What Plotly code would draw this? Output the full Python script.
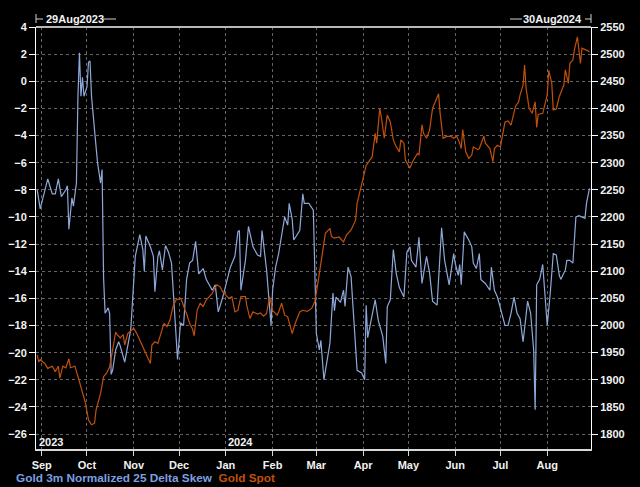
import plotly.graph_objects as go

# ---------------- data ----------------
skew_dates = [
    "2023-08-29", "2023-08-31", "2023-09-05", "2023-09-08", "2023-09-10", "2023-09-12", "2023-09-14",
    "2023-09-17", "2023-09-18", "2023-09-19", "2023-09-21", "2023-09-22", "2023-09-24", "2023-09-25",
    "2023-09-26", "2023-09-27", "2023-09-28", "2023-09-29", "2023-10-01", "2023-10-02", "2023-10-03",
    "2023-10-04", "2023-10-06", "2023-10-08", "2023-10-10", "2023-10-11", "2023-10-12", "2023-10-13",
    "2023-10-15", "2023-10-16", "2023-10-17", "2023-10-18", "2023-10-20", "2023-10-22", "2023-10-23",
    "2023-10-26", "2023-10-30", "2023-11-01", "2023-11-02", "2023-11-05", "2023-11-07", "2023-11-08",
    "2023-11-09", "2023-11-12", "2023-11-14", "2023-11-15", "2023-11-17", "2023-11-18", "2023-11-20",
    "2023-11-22", "2023-11-24", "2023-11-26", "2023-11-28", "2023-11-30", "2023-12-02", "2023-12-04",
    "2023-12-06", "2023-12-08", "2023-12-10", "2023-12-12", "2023-12-14", "2023-12-17", "2023-12-19",
    "2023-12-23", "2023-12-25", "2023-12-27", "2023-12-30", "2024-01-03", "2024-01-04", "2024-01-07",
    "2024-01-09", "2024-01-10", "2024-01-11", "2024-01-14", "2024-01-16", "2024-01-19", "2024-01-22",
    "2024-01-24", "2024-01-25", "2024-01-28", "2024-01-30", "2024-01-31", "2024-02-01", "2024-02-03",
    "2024-02-05", "2024-02-07", "2024-02-09", "2024-02-11", "2024-02-12", "2024-02-14", "2024-02-15",
    "2024-02-19", "2024-02-21", "2024-02-22", "2024-02-25", "2024-02-28", "2024-02-29", "2024-03-01",
    "2024-03-03", "2024-03-04", "2024-03-06", "2024-03-08", "2024-03-10", "2024-03-12", "2024-03-13",
    "2024-03-14", "2024-03-17", "2024-03-19", "2024-03-20", "2024-03-22", "2024-03-24", "2024-03-28",
    "2024-03-31", "2024-04-02", "2024-04-03", "2024-04-04", "2024-04-07", "2024-04-09", "2024-04-11",
    "2024-04-14", "2024-04-16", "2024-04-17", "2024-04-19", "2024-04-20", "2024-04-21", "2024-04-23",
    "2024-04-25", "2024-04-28", "2024-04-30", "2024-05-02", "2024-05-03", "2024-05-06", "2024-05-08",
    "2024-05-10", "2024-05-13", "2024-05-15", "2024-05-17", "2024-05-20", "2024-05-23", "2024-05-25",
    "2024-05-28", "2024-05-31", "2024-06-01", "2024-06-03", "2024-06-04", "2024-06-05", "2024-06-07",
    "2024-06-10", "2024-06-12", "2024-06-13", "2024-06-15", "2024-06-17", "2024-06-18", "2024-06-21",
    "2024-06-24", "2024-06-25", "2024-06-27", "2024-06-29", "2024-07-02", "2024-07-04", "2024-07-06",
    "2024-07-08", "2024-07-10", "2024-07-12", "2024-07-14", "2024-07-16", "2024-07-19", "2024-07-21",
    "2024-07-23", "2024-07-24", "2024-07-25", "2024-07-27", "2024-07-29", "2024-07-30", "2024-08-01",
    "2024-08-03", "2024-08-05", "2024-08-07", "2024-08-09", "2024-08-10", "2024-08-13", "2024-08-14",
    "2024-08-16", "2024-08-18", "2024-08-20", "2024-08-22", "2024-08-24", "2024-08-26", "2024-08-27",
    "2024-08-29",
]
skew_values = [
    -8.0, -9.4, -7.2, -8.3, -8.3, -7.2, -8.5,
    -8.0, -7.7, -10.9, -8.6, -9.2, -7.5, -1.1,
    2.1, -1.1, 0.3, -1.1, -0.4, 1.4, 1.5,
    -1.1, -3.6, -6.0, -7.5, -6.5, -14.5, -17.1,
    -16.7, -17.1, -21.6, -21.3, -19.8, -19.2, -19.5,
    -20.7, -18.3, -14.4, -12.9, -11.3, -12.4, -14.0,
    -11.4, -12.2, -12.9, -15.5, -12.9, -12.5, -13.9,
    -12.1, -12.6, -13.4, -16.9, -20.5, -17.8, -18.0,
    -14.6, -13.4, -13.2, -11.8, -14.2, -13.8, -14.6,
    -15.4, -15.0, -17.0, -15.9, -14.0, -13.7, -12.9,
    -11.1, -11.0, -15.4, -13.2, -10.7, -12.2, -12.8,
    -12.9, -11.0, -13.9, -16.6, -18.0, -15.4, -13.7,
    -12.7, -11.5, -10.0, -10.6, -9.0, -10.2, -11.7,
    -11.0, -8.3, -9.0, -9.0, -9.5, -13.4, -18.6,
    -19.8, -19.1, -22.0, -20.5, -19.3, -15.6, -16.9,
    -15.9, -16.3, -15.4, -16.6, -13.7, -14.4, -21.3,
    -21.5, -22.0, -16.5, -18.9, -17.3, -16.1, -17.6,
    -18.8, -20.8, -16.6, -16.1, -14.4, -12.4, -14.2,
    -15.2, -15.9, -12.6, -12.2, -13.2, -13.7, -11.5,
    -14.9, -12.9, -14.1, -16.2, -16.5, -10.8, -13.2,
    -15.0, -12.7, -13.4, -14.3, -13.5, -15.0, -11.1,
    -11.7, -12.2, -13.4, -13.8, -12.7, -14.6, -14.9,
    -15.4, -13.7, -15.4, -15.9, -17.2, -18.0, -18.0,
    -17.1, -15.9, -17.1, -17.5, -19.2, -16.2, -17.1,
    -19.8, -24.2, -15.0, -14.6, -13.5, -14.9, -18.0,
    -15.6, -12.7, -12.8, -14.3, -14.6, -13.9, -13.2,
    -13.2, -13.4, -10.0, -9.9, -10.0, -10.1, -9.0,
    -7.9,
]

spot_dates = [
    "2023-08-29", "2023-08-30", "2023-08-31", "2023-09-03", "2023-09-05", "2023-09-08", "2023-09-10",
    "2023-09-12", "2023-09-13", "2023-09-15", "2023-09-17", "2023-09-19", "2023-09-20", "2023-09-23",
    "2023-09-25", "2023-09-28", "2023-09-30", "2023-10-02", "2023-10-04", "2023-10-06", "2023-10-07",
    "2023-10-10", "2023-10-12", "2023-10-14", "2023-10-16", "2023-10-18", "2023-10-20", "2023-10-21",
    "2023-10-23", "2023-10-25", "2023-10-26", "2023-10-28", "2023-11-01", "2023-11-03", "2023-11-06",
    "2023-11-09", "2023-11-12", "2023-11-13", "2023-11-15", "2023-11-17", "2023-11-19", "2023-11-21",
    "2023-11-23", "2023-11-25", "2023-11-27", "2023-11-29", "2023-12-02", "2023-12-03", "2023-12-05",
    "2023-12-06", "2023-12-08", "2023-12-10", "2023-12-11", "2023-12-13", "2023-12-15", "2023-12-17",
    "2023-12-19", "2023-12-23", "2023-12-26", "2023-12-28", "2023-12-30", "2024-01-02", "2024-01-03",
    "2024-01-05", "2024-01-07", "2024-01-09", "2024-01-11", "2024-01-14", "2024-01-15", "2024-01-17",
    "2024-01-19", "2024-01-22", "2024-01-24", "2024-01-26", "2024-01-28", "2024-01-30", "2024-02-01",
    "2024-02-04", "2024-02-05", "2024-02-07", "2024-02-09", "2024-02-11", "2024-02-14", "2024-02-16",
    "2024-02-19", "2024-02-21", "2024-02-24", "2024-02-27", "2024-02-29", "2024-03-02", "2024-03-05",
    "2024-03-07", "2024-03-10", "2024-03-11", "2024-03-13", "2024-03-16", "2024-03-19", "2024-03-21",
    "2024-03-24", "2024-03-27", "2024-03-28", "2024-03-30", "2024-04-01", "2024-04-03", "2024-04-07",
    "2024-04-08", "2024-04-09", "2024-04-10", "2024-04-12", "2024-04-13", "2024-04-15", "2024-04-17",
    "2024-04-19", "2024-04-21", "2024-04-23", "2024-04-25", "2024-04-26", "2024-04-28", "2024-04-29",
    "2024-05-02", "2024-05-04", "2024-05-07", "2024-05-08", "2024-05-10", "2024-05-11", "2024-05-13",
    "2024-05-15", "2024-05-17", "2024-05-19", "2024-05-21", "2024-05-22", "2024-05-24", "2024-05-26",
    "2024-05-29", "2024-05-31", "2024-06-02", "2024-06-04", "2024-06-05", "2024-06-06", "2024-06-08",
    "2024-06-10", "2024-06-12", "2024-06-13", "2024-06-16", "2024-06-17", "2024-06-20", "2024-06-21",
    "2024-06-24", "2024-06-26", "2024-06-27", "2024-06-29", "2024-07-01", "2024-07-03", "2024-07-04",
    "2024-07-06", "2024-07-08", "2024-07-11", "2024-07-13", "2024-07-14", "2024-07-16", "2024-07-17",
    "2024-07-18", "2024-07-20", "2024-07-22", "2024-07-24", "2024-07-25", "2024-07-26", "2024-07-29",
    "2024-08-01", "2024-08-02", "2024-08-04", "2024-08-05", "2024-08-07", "2024-08-09", "2024-08-12",
    "2024-08-13", "2024-08-15", "2024-08-16", "2024-08-18", "2024-08-19", "2024-08-21", "2024-08-22",
    "2024-08-23", "2024-08-24", "2024-08-26", "2024-08-28", "2024-08-29",
]
spot_values = [
    1946, 1933, 1937, 1930, 1921, 1925, 1915,
    1925, 1903, 1925, 1922, 1939, 1922, 1925,
    1906, 1875, 1857, 1826, 1817, 1820, 1844,
    1875, 1906, 1912, 1924, 1955, 1988, 1983,
    1977, 1983, 1964, 1985, 1995, 1985, 1967,
    1946, 1930, 1964, 1970, 1967, 1985, 2004,
    1998, 2010, 2035, 2047, 2050, 2044, 2028,
    2022, 2004, 1993, 1981, 2028, 2041, 2035,
    2047, 2059, 2075, 2072, 2062, 2053, 2050,
    2053, 2025, 2028, 2053, 2053, 2035, 2013,
    2025, 2021, 2023, 2017, 2022, 2053, 2028,
    2019, 2025, 2041, 2019, 2016, 1985, 2004,
    2025, 2028, 2026, 2032, 2044, 2078, 2133,
    2170, 2179, 2164, 2161, 2163, 2154, 2167,
    2176, 2194, 2225, 2250, 2270, 2295, 2311,
    2329, 2354, 2336, 2400, 2385, 2345, 2388,
    2375, 2342, 2329, 2320, 2342, 2336, 2305,
    2290, 2303, 2317, 2314, 2370, 2354, 2345,
    2360, 2400, 2412, 2427, 2391, 2345, 2348,
    2349, 2345, 2349, 2336, 2326, 2361, 2320,
    2308, 2314, 2329, 2324, 2326, 2349, 2336,
    2326, 2302, 2326, 2332, 2329, 2360, 2375,
    2377, 2369, 2404, 2412, 2425, 2443, 2480,
    2437, 2400, 2391, 2412, 2365, 2389, 2391,
    2425, 2470, 2446, 2397, 2399, 2422, 2443,
    2471, 2446, 2483, 2489, 2508, 2532, 2501,
    2483, 2511, 2509, 2506, 2504,
]

skew_ticks = list(range(-26, 5, 2))
spot_ticks = list(range(1800, 2551, 50))
skew_name = "Gold 3m Normalized 25 Delta Skew"
spot_name = "Gold Spot"
start_label = "29Aug2023"
end_label = "30Aug2024"

# ---------------- style ----------------
W, H = 640, 487
L, R, T, B = 36, 49, 27, 38
FONT = "Liberation Sans, Arial, sans-serif"
SKEW_COLOR = "#8ea8da"
SPOT_COLOR = "#c0500c"
TEXT = "#f2f2f2"
GRID = "#646464"


def px(x):
    return (x - L) / (W - L - R)


def py(y):
    return (H - B - y) / (H - T - B)


fig = go.Figure()
fig.add_trace(go.Scatter(x=skew_dates, y=skew_values, mode="lines", name=skew_name,
                         line=dict(color=SKEW_COLOR, width=1.2), yaxis="y"))
fig.add_trace(go.Scatter(x=spot_dates, y=spot_values, mode="lines", name=spot_name,
                         line=dict(color=SPOT_COLOR, width=1.2), yaxis="y2"))

tickfont = dict(family=FONT, size=11, color=TEXT, weight="bold")

fig.update_layout(
    width=W, height=H, autosize=False,
    margin=dict(l=L, r=R, t=T, b=B, pad=0),
    paper_bgcolor="black", plot_bgcolor="black",
    showlegend=False,
    xaxis=dict(
        type="date", range=["2023-08-28 05:00", "2024-08-30 00:00"],
        dtick="M1", tick0="2023-09-01", tickformat="%b",
        showline=True, linecolor="#d8d8d8", linewidth=2,
        ticks="outside", ticklen=5, tickcolor="#d8d8d8",
        showgrid=True, gridcolor=GRID, griddash="dot", gridwidth=1,
        zeroline=False, tickfont=tickfont, automargin=False,
    ),
    yaxis=dict(
        range=[-27.1, 4], tickvals=skew_ticks,
        showline=True, linecolor="white", linewidth=1,
        ticks="outside", ticklen=6, tickcolor="white",
        showgrid=True, gridcolor=GRID, griddash="dot", gridwidth=1,
        zeroline=False, tickfont=tickfont, automargin=False,
    ),
    yaxis2=dict(
        range=[1772.4, 2550], tickvals=spot_ticks, overlaying="y", side="right",
        showline=True, linecolor="white", linewidth=1,
        ticks="outside", ticklen=6, tickcolor="white",
        showgrid=False, zeroline=False, tickfont=tickfont, automargin=False,
    ),
)

line_style = dict(color="#d0d0d0", width=1)
shapes = [
    # top border
    dict(type="line", xref="paper", yref="paper", x0=0, x1=1, y0=1, y1=1,
         line=dict(color="#b8b8b8", width=2)),
    # start bracket
    dict(type="line", xref="paper", yref="paper", x0=px(36), x1=px(36), y0=py(14), y1=py(23), line=line_style),
    dict(type="line", xref="paper", yref="paper", x0=px(36), x1=px(43), y0=py(19), y1=py(19), line=line_style),
    dict(type="line", xref="paper", yref="paper", x0=px(103), x1=px(116), y0=py(19), y1=py(19), line=line_style),
    # end bracket
    dict(type="line", xref="paper", yref="paper", x0=px(510), x1=px(522), y0=py(19), y1=py(19), line=line_style),
    dict(type="line", xref="paper", yref="paper", x0=px(585), x1=px(591), y0=py(19), y1=py(19), line=line_style),
    dict(type="line", xref="paper", yref="paper", x0=px(591), x1=px(591), y0=py(14), y1=py(23), line=line_style),
]
fig.update_layout(shapes=shapes)

labfont = dict(family=FONT, size=11, color=TEXT, weight="bold")
annotations = [
    dict(text=start_label, xref="paper", yref="paper", x=px(44), y=py(19),
         xanchor="left", yanchor="middle", showarrow=False, font=labfont),
    dict(text=end_label, xref="paper", yref="paper", x=px(584), y=py(19),
         xanchor="right", yanchor="middle", showarrow=False, font=labfont),
    dict(text="2023", xref="paper", yref="paper", x=px(37), y=py(442),
         xanchor="left", yanchor="middle", showarrow=False, font=labfont),
    dict(text="2024", xref="x", yref="paper", x="2024-01-01", y=py(442),
         xanchor="left", yanchor="middle", showarrow=False, font=labfont),
    dict(text=f"<span style='color:#7c9fe2'>{skew_name}</span>&nbsp;&nbsp;"
              f"<span style='color:#c2500c'>{spot_name}</span>",
         xref="paper", yref="paper", x=px(14), y=py(478),
         xanchor="left", yanchor="middle", showarrow=False,
         font=dict(family=FONT, size=11.8, weight="bold")),
]
fig.update_layout(annotations=annotations)

fig.write_html("out.html", config={"displayModeBar": False},
               post_script="document.body.style.margin='0';document.body.style.overflow='hidden';")
